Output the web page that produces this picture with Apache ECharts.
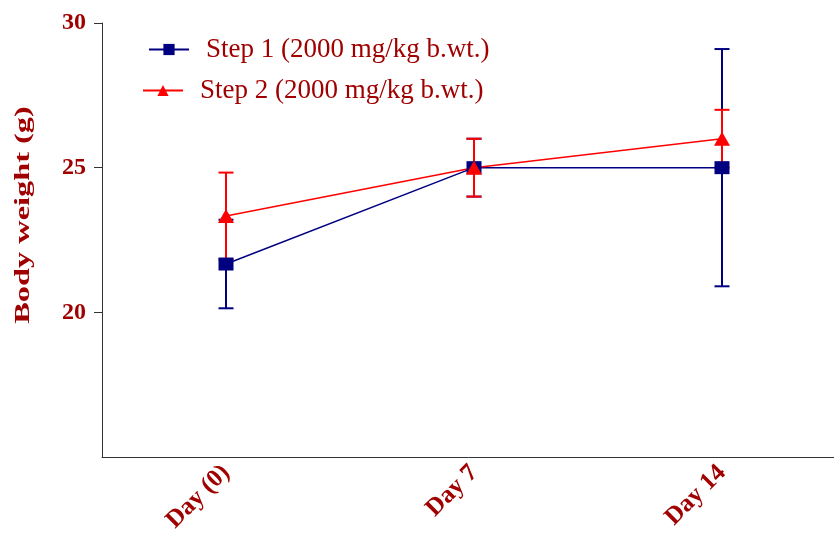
<!DOCTYPE html>
<html>
<head>
<meta charset="utf-8">
<script src="https://cdn.jsdelivr.net/npm/echarts@6/dist/echarts.min.js"></script>
<style>
  html, body { margin: 0; padding: 0; background: #fff; }
  #chart { width: 834px; height: 533px; }
</style>
</head>
<body>
<div id="chart"></div>
<script>
'use strict';

var days = ['Day (0)', 'Day 7', 'Day 14'];
var step1Name = 'Step 1 (2000 mg/kg b.wt.)';
var step2Name = 'Step 2 (2000 mg/kg b.wt.)';
var step1Mean = [21.67, 25, 25];
var step1Sd = [1.53, 1, 4.1];
var step2Mean = [23.33, 25, 26];
var step2Sd = [1.5, 1, 1];
var yTicks = [20, 25, 30];

var darkRed = '#A00000';
var serif = '"Liberation Serif", "Times New Roman", serif';

// error bars (mean +/- sd) drawn with a custom series
function errorData(mean, sd) {
    var out = [];
    for (var i = 0; i < mean.length; i ++) {
        out.push([i, mean[i] - sd[i], mean[i] + sd[i]]);
    }
    return out;
}

function errorSeries(mean, sd, color) {
    return {
        type: 'custom',
        data: errorData(mean, sd),
        silent: true,
        renderItem: function (params, api) {
            var lo = api.coord([api.value(0), api.value(1)]);
            var hi = api.coord([api.value(0), api.value(2)]);
            var half = 7.5;
            var style = { stroke: color, lineWidth: 2 };
            return {
                type: 'group',
                children: [
                    { type: 'line', shape: { x1: hi[0], y1: hi[1], x2: lo[0], y2: lo[1] }, style: style },
                    { type: 'line', shape: { x1: hi[0] - half, y1: hi[1], x2: hi[0] + half, y2: hi[1] }, style: style },
                    { type: 'line', shape: { x1: lo[0] - half, y1: lo[1], x2: lo[0] + half, y2: lo[1] }, style: style }
                ]
            };
        }
    };
}

var chart = echarts.init(document.getElementById('chart'));

var legendText = { fontFamily: serif, fontSize: 27, color: darkRed, padding: [0, 0, 0, 12] };

var option = {
    animation: false,
    backgroundColor: '#fff',
    grid: { left: 102, right: -12, top: 23, bottom: 76, outerBoundsMode: 'none', containLabel: false },
    legend: [
        {
            data: [step1Name],
            left: 143, top: 31,
            itemWidth: 40, itemHeight: 14,
            textStyle: legendText
        },
        {
            data: [step2Name],
            left: 137, top: 72,
            itemWidth: 40, itemHeight: 14,
            textStyle: legendText
        }
    ],
    xAxis: {
        type: 'category',
        data: days,
        boundaryGap: true,
        axisLine: { lineStyle: { color: '#333', width: 1 } },
        axisTick: { alignWithLabel: true, length: 7, lineStyle: { color: '#333' } },
        axisLabel: {
            rotate: 45, margin: 12,
            fontFamily: serif, fontWeight: 'bold', fontSize: 25, color: darkRed
        }
    },
    yAxis: {
        type: 'value',
        min: 15, max: 30, interval: 5,
        splitLine: { show: false },
        axisLine: { show: true, lineStyle: { color: '#333', width: 1 } },
        axisTick: { show: true, length: 8, customValues: yTicks, lineStyle: { color: '#333' } },
        axisLabel: {
            margin: 16,
            customValues: yTicks,
            fontFamily: serif, fontWeight: 'bold', fontSize: 24, color: darkRed
        }
    },
    graphic: [
        {
            type: 'text',
            x: 23, y: 215,
            rotation: Math.PI / 2,
            scaleX: 1.47,
            style: {
                text: 'Body weight (g)',
                fontFamily: serif, fontWeight: 'bold', fontSize: 22,
                fill: darkRed, align: 'center', verticalAlign: 'middle'
            }
        }
    ],
    series: [
        errorSeries(step1Mean, step1Sd, '#000080'),
        {
            name: step1Name,
            type: 'line',
            data: step1Mean,
            symbol: 'rect',
            symbolSize: [15, 13],
            itemStyle: { color: '#000080' },
            lineStyle: { color: '#000080', width: 1.5 }
        },
        errorSeries(step2Mean, step2Sd, '#FF0000'),
        {
            name: step2Name,
            type: 'line',
            data: step2Mean,
            symbol: 'triangle',
            symbolSize: [16, 14],
            itemStyle: { color: '#FF0000' },
            lineStyle: { color: '#FF0000', width: 1.5 }
        }
    ]
};

chart.setOption(option);
</script>
</body>
</html>
